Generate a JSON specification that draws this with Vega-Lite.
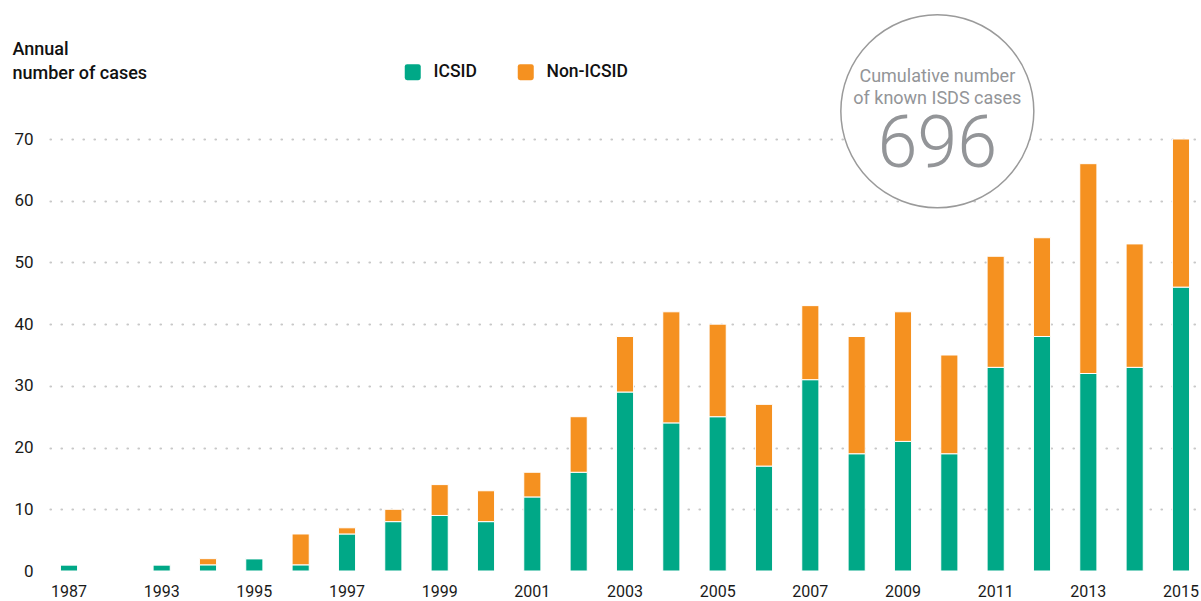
{
  "$schema": "https://vega.github.io/schema/vega-lite/v6.json",
  "width": 1150,
  "height": 432,
  "autosize": {"type": "none"},
  "padding": {"left": 50, "top": 139, "right": 1, "bottom": 30},
  "background": "white",
  "config": {
    "view": {"stroke": null},
    "font": "Roboto, sans-serif"
  },
  "datasets": {
    "cases": [
      {"year": "1987", "type": "ICSID", "cases": 1},
      {"year": "1987", "type": "Non-ICSID", "cases": 0},
      {"year": "1993", "type": "ICSID", "cases": 1},
      {"year": "1993", "type": "Non-ICSID", "cases": 0},
      {"year": "1994", "type": "ICSID", "cases": 1},
      {"year": "1994", "type": "Non-ICSID", "cases": 1},
      {"year": "1995", "type": "ICSID", "cases": 2},
      {"year": "1995", "type": "Non-ICSID", "cases": 0},
      {"year": "1996", "type": "ICSID", "cases": 1},
      {"year": "1996", "type": "Non-ICSID", "cases": 5},
      {"year": "1997", "type": "ICSID", "cases": 6},
      {"year": "1997", "type": "Non-ICSID", "cases": 1},
      {"year": "1998", "type": "ICSID", "cases": 8},
      {"year": "1998", "type": "Non-ICSID", "cases": 2},
      {"year": "1999", "type": "ICSID", "cases": 9},
      {"year": "1999", "type": "Non-ICSID", "cases": 5},
      {"year": "2000", "type": "ICSID", "cases": 8},
      {"year": "2000", "type": "Non-ICSID", "cases": 5},
      {"year": "2001", "type": "ICSID", "cases": 12},
      {"year": "2001", "type": "Non-ICSID", "cases": 4},
      {"year": "2002", "type": "ICSID", "cases": 16},
      {"year": "2002", "type": "Non-ICSID", "cases": 9},
      {"year": "2003", "type": "ICSID", "cases": 29},
      {"year": "2003", "type": "Non-ICSID", "cases": 9},
      {"year": "2004", "type": "ICSID", "cases": 24},
      {"year": "2004", "type": "Non-ICSID", "cases": 18},
      {"year": "2005", "type": "ICSID", "cases": 25},
      {"year": "2005", "type": "Non-ICSID", "cases": 15},
      {"year": "2006", "type": "ICSID", "cases": 17},
      {"year": "2006", "type": "Non-ICSID", "cases": 10},
      {"year": "2007", "type": "ICSID", "cases": 31},
      {"year": "2007", "type": "Non-ICSID", "cases": 12},
      {"year": "2008", "type": "ICSID", "cases": 19},
      {"year": "2008", "type": "Non-ICSID", "cases": 19},
      {"year": "2009", "type": "ICSID", "cases": 21},
      {"year": "2009", "type": "Non-ICSID", "cases": 21},
      {"year": "2010", "type": "ICSID", "cases": 19},
      {"year": "2010", "type": "Non-ICSID", "cases": 16},
      {"year": "2011", "type": "ICSID", "cases": 33},
      {"year": "2011", "type": "Non-ICSID", "cases": 18},
      {"year": "2012", "type": "ICSID", "cases": 38},
      {"year": "2012", "type": "Non-ICSID", "cases": 16},
      {"year": "2013", "type": "ICSID", "cases": 32},
      {"year": "2013", "type": "Non-ICSID", "cases": 34},
      {"year": "2014", "type": "ICSID", "cases": 33},
      {"year": "2014", "type": "Non-ICSID", "cases": 20},
      {"year": "2015", "type": "ICSID", "cases": 46},
      {"year": "2015", "type": "Non-ICSID", "cases": 24}
    ],
    "badge": [
      {"year": "2010", "value": 74.5}
    ],
    "badgeText": [
      {"year": "2010", "value": 79.3, "label": "Cumulative number"},
      {"year": "2010", "value": 75.6, "label": "of known ISDS cases"}
    ],
    "badgeTotal": [
      {"year": "2010", "value": 65.4, "label": "696"}
    ]
  },
  "layer": [
    {
      "data": {"name": "cases"},
      "mark": {"type": "bar", "stroke": "white", "strokeWidth": 1},
      "encoding": {
        "x": {
          "field": "year",
          "type": "ordinal",
          "scale": {
            "domain": ["1987", "gap", "1993", "1994", "1995", "1996", "1997", "1998", "1999", "2000", "2001", "2002", "2003", "2004", "2005", "2006", "2007", "2008", "2009", "2010", "2011", "2012", "2013", "2014", "2015"],
            "paddingInner": 0.63,
            "paddingOuter": 0.225
          },
          "axis": {
            "title": null,
            "values": ["1987", "1993", "1995", "1997", "1999", "2001", "2003", "2005", "2007", "2009", "2011", "2013", "2015"],
            "labelAngle": 0,
            "labelFontSize": 16,
            "labelColor": "#1a1a1a",
            "labelPadding": 12,
            "domain": false,
            "ticks": false
          }
        },
        "y": {
          "field": "cases",
          "type": "quantitative",
          "stack": "zero",
          "scale": {"domain": [0, 70], "nice": false},
          "axis": {
            "values": [0, 10, 20, 30, 40, 50, 60, 70],
            "title": ["Annual", "number of cases"],
            "titleAngle": 0,
            "titleAlign": "left",
            "titleBaseline": "top",
            "titleX": -38,
            "titleY": -99,
            "titleFontSize": 18,
            "titleFontWeight": 500,
            "titleColor": "#111",
            "titleLineHeight": 24,
            "labelFontSize": 17,
            "labelColor": "#1a1a1a",
            "labelPadding": 17,
            "domain": false,
            "ticks": false,
            "grid": true,
            "gridColor": "#c8c8c8",
            "gridWidth": 2.2,
            "gridDash": [0.5, 10.5],
            "gridCap": "round",
            "gridOpacity": {"condition": {"test": "datum.value === 0", "value": 0}, "value": 1}
          }
        },
        "color": {
          "field": "type",
          "type": "nominal",
          "scale": {"domain": ["ICSID", "Non-ICSID"], "range": ["#00a887", "#f59120"]},
          "legend": {
            "title": null,
            "orient": "none",
            "direction": "horizontal",
            "legendX": 354,
            "legendY": -76,
            "symbolType": "M-1,-0.7Q-1,-1,-0.7,-1L0.7,-1Q1,-1,1,-0.7L1,0.7Q1,1,0.7,1L-0.7,1Q-1,1,-1,0.7Z",
            "symbolSize": 256,
            "symbolStrokeWidth": 0,
            "labelFontSize": 17.5,
            "labelFontWeight": 500,
            "labelColor": "#111",
            "labelOffset": 12,
            "columnPadding": 40
          }
        },
        "order": {"field": "type", "sort": "ascending"}
      }
    },
    {
      "data": {"name": "badge"},
      "mark": {"type": "point", "shape": "circle", "filled": false, "fill": "white", "fillOpacity": 1, "stroke": "#9a9a9a", "strokeWidth": 1.5, "size": 37249, "xOffset": -12, "opacity": 1},
      "encoding": {
        "x": {"field": "year", "type": "ordinal"},
        "y": {"field": "value", "type": "quantitative"}
      }
    },
    {
      "data": {"name": "badgeText"},
      "mark": {"type": "text", "dx": -12, "baseline": "alphabetic", "align": "center", "color": "#939598", "fontWeight": 400, "fontSize": 18},
      "encoding": {
        "x": {"field": "year", "type": "ordinal"},
        "y": {"field": "value", "type": "quantitative"},
        "text": {"field": "label"}
      }
    },
    {
      "data": {"name": "badgeTotal"},
      "mark": {"type": "text", "dx": -12, "baseline": "alphabetic", "align": "center", "color": "#939598", "fontWeight": 300, "fontSize": 72},
      "encoding": {
        "x": {"field": "year", "type": "ordinal"},
        "y": {"field": "value", "type": "quantitative"},
        "text": {"field": "label"}
      }
    }
  ]
}
